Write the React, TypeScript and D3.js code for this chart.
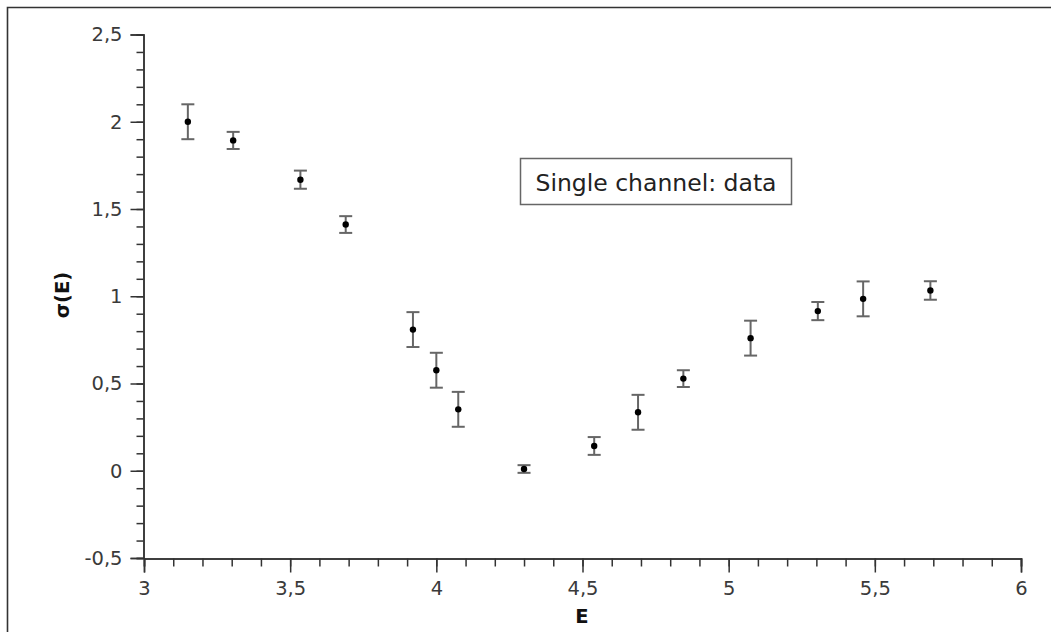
import React, { useEffect, useRef } from 'react';
import * as d3 from 'd3';

// measured points: energy, cross-section, half error
const energies = [3.15, 3.305, 3.535, 3.69, 3.92, 4.0, 4.075, 4.3, 4.54, 4.69, 4.845, 5.075, 5.305, 5.46, 5.69];
const sigmas = [2.0, 1.893, 1.668, 1.411, 0.809, 0.576, 0.352, 0.01, 0.142, 0.335, 0.528, 0.76, 0.915, 0.985, 1.033];
const errors = [0.1, 0.049, 0.052, 0.048, 0.1, 0.1, 0.1, 0.022, 0.051, 0.1, 0.048, 0.1, 0.052, 0.1, 0.053];

const legendText = 'Single channel: data';
const xTitle = 'E';
const yTitle = 'σ(E)';

const W = 1051;
const H = 632;
const FONT = '"DejaVu Sans", "Noto Sans", sans-serif';

const fmt = (v: number) => {
  const s = d3.format('~g')(+v.toFixed(2));
  return s.replace('−', '-').replace('.', ',');
};

const App = () => {
  const ref = useRef<SVGSVGElement | null>(null);

  useEffect(() => {
    document.body.style.margin = '0';
    const svg = d3.select(ref.current);
    svg.selectAll('*').remove();

    const x = d3.scaleLinear().domain([3, 6]).range([144, 1021]);
    const y = d3.scaleLinear().domain([-0.5, 2.5]).range([558, 34.5]);

    svg.append('rect').attr('width', W).attr('height', H).attr('fill', '#fff');

    // outer frame (top + left edges visible)
    svg.append('path')
      .attr('d', `M7.5,${H} L7.5,7.5 L${W},7.5`)
      .attr('fill', 'none')
      .attr('stroke', '#333')
      .attr('stroke-width', 1.6);

    const styleAxis = (g: any) => {
      g.select('.domain').attr('stroke', '#333').attr('stroke-width', 1.5);
      g.selectAll('.tick line').attr('stroke', '#333').attr('stroke-width', 1.5);
      g.selectAll('.tick text')
        .attr('fill', '#3a3a3a')
        .attr('font-family', FONT)
        .attr('font-size', 19.5);
    };

    // minor ticks
    const yMinor = svg.append('g').attr('transform', 'translate(143.5,0)')
      .call(d3.axisLeft(y).ticks(30).tickSize(7).tickFormat(() => ''));
    styleAxis(yMinor);
    const xMinor = svg.append('g').attr('transform', 'translate(0,558.5)')
      .call(d3.axisBottom(x).ticks(30).tickSize(8).tickFormat(() => ''));
    styleAxis(xMinor);

    // major ticks + labels
    const yAxis = svg.append('g').attr('transform', 'translate(143.5,0)')
      .call(d3.axisLeft(y).ticks(6).tickSize(13).tickPadding(8).tickFormat((d: any) => fmt(d)));
    styleAxis(yAxis);
    const xAxis = svg.append('g').attr('transform', 'translate(0,558.5)')
      .call(d3.axisBottom(x).ticks(6).tickSize(14).tickPadding(9).tickFormat((d: any) => fmt(d)));
    styleAxis(xAxis);

    // axis titles
    svg.append('text')
      .attr('x', 582).attr('y', 622.5)
      .attr('text-anchor', 'middle')
      .attr('font-family', FONT).attr('font-size', 19.5).attr('font-weight', 'bold')
      .attr('fill', '#111')
      .text(xTitle);
    svg.append('text')
      .attr('transform', 'translate(69,295) rotate(-90)')
      .attr('text-anchor', 'middle')
      .attr('font-family', FONT).attr('font-size', 19.5).attr('font-weight', 'bold')
      .attr('fill', '#111')
      .text(yTitle);

    // error bars
    const pts = energies.map((e, i) => ({ e, s: sigmas[i], err: errors[i] }));
    const bars = svg.append('g').attr('stroke', '#666').attr('stroke-width', 2);
    pts.forEach((p) => {
      const cx = x(p.e);
      const y0 = y(p.s - p.err);
      const y1 = y(p.s + p.err);
      bars.append('line').attr('x1', cx).attr('x2', cx).attr('y1', y0).attr('y2', y1);
      bars.append('line').attr('x1', cx - 6.5).attr('x2', cx + 6.5).attr('y1', y0).attr('y2', y0);
      bars.append('line').attr('x1', cx - 6.5).attr('x2', cx + 6.5).attr('y1', y1).attr('y2', y1);
    });

    svg.append('g').selectAll('circle')
      .data(pts)
      .join('circle')
      .attr('cx', (d) => x(d.e))
      .attr('cy', (d) => y(d.s))
      .attr('r', 3.2)
      .attr('fill', '#000');

    // legend box
    const lg = svg.append('g');
    lg.append('rect')
      .attr('x', 520.5).attr('y', 158.5).attr('width', 271).attr('height', 46)
      .attr('fill', '#fff').attr('stroke', '#666').attr('stroke-width', 1.5);
    lg.append('text')
      .attr('x', 656).attr('y', 190.5)
      .attr('text-anchor', 'middle')
      .attr('font-family', FONT).attr('font-size', 23.5)
      .attr('fill', '#222')
      .text(legendText);
  }, []);

  return (
    <svg
      ref={ref}
      width={W}
      height={H}
      style={{ position: 'absolute', left: 0, top: 0, display: 'block' }}
    />
  );
};

export default App;
